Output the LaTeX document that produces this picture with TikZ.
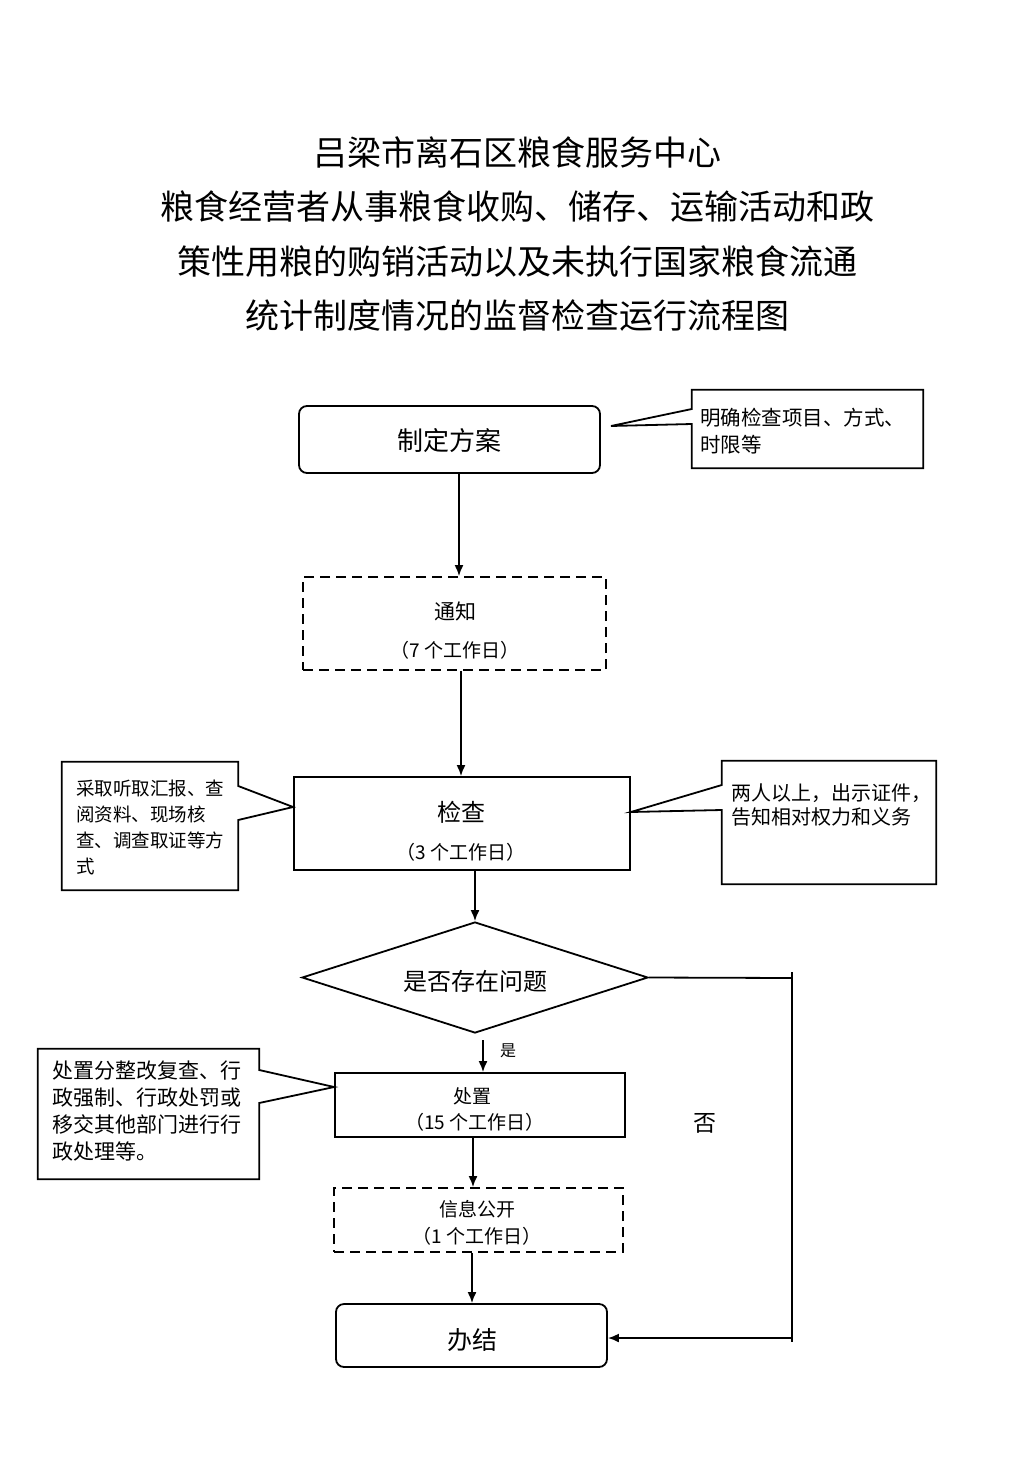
\documentclass[tikz,border=0pt]{standalone}
\usepackage{fontspec}
\setmainfont{Noto Sans CJK SC}
\usetikzlibrary{arrows.meta,shapes.geometric}
\newcommand{\myfs}[2]{\fontsize{#1}{#2}\selectfont}
\tikzset{
 ln/.style={line width=1.8pt},
 arr/.style={ln,-{Latex[length=11pt,width=9pt]}},
 solidbox/.style={draw,ln,rectangle,inner sep=0pt},
 roundbox/.style={solidbox,rounded corners=8pt},
 dashbox/.style={solidbox,dash pattern=on 10pt off 6pt},
 txt/.style={inner sep=0pt,align=center},
 note/.style={inner sep=0pt,align=left,anchor=west},
 calloutbox/.style={inner sep=0pt,rectangle},
 titletxt/.style={inner sep=0pt,font=\myfs{34}{40}},
}
\begin{document}
\begin{tikzpicture}[x=1pt,y=-1pt]
\useasboundingbox (0,0) rectangle (1033,1461);
% title
\node[titletxt] (t1) at (517,152) {吕梁市离石区粮食服务中心};
\node[titletxt] (t2) at (517,207) {粮食经营者从事粮食收购、储存、运输活动和政};
\node[titletxt] (t3) at (517,262) {策性用粮的购销活动以及未执行国家粮食流通};
\node[titletxt] (t4) at (517,316) {统计制度情况的监督检查运行流程图};
% boxes
\node[roundbox,minimum width=301pt,minimum height=67pt] (b1) at (449.5,439.5) {};
\node[txt,font=\myfs{26}{30}] (b1t) at (449.5,441) {制定方案};
\node[dashbox,minimum width=303pt,minimum height=93pt] (b2) at (454.5,623.5) {};
\node[txt,font=\myfs{21}{25}] (b2t) at (455,611) {通知};
\node[txt,font=\myfs{19}{23}] (b2s) at (455,650) {（7 个工作日）};
\node[solidbox,minimum width=336pt,minimum height=93pt] (b3) at (462,823.5) {};
\node[txt,font=\myfs{24}{28}] (b3t) at (461,812) {检查};
\node[txt,font=\myfs{19}{23}] (b3s) at (461,852) {（3 个工作日）};
\node[draw,ln,diamond,minimum width=346pt,minimum height=111pt,inner sep=0pt] (d) at (475,977.5) {};
\node[txt,font=\myfs{24}{28}] (dt) at (475,981) {是否存在问题};
\node[solidbox,minimum width=290pt,minimum height=64pt] (b4) at (480,1105) {};
\node[txt,font=\myfs{19}{23}] (b4t) at (472,1096) {处置};
\node[txt,font=\myfs{19}{23}] (b4s) at (475,1122) {（15 个工作日）};
\node[dashbox,minimum width=289pt,minimum height=64pt] (b5) at (478.5,1220) {};
\node[txt,font=\myfs{19}{23}] (b5t) at (477,1209) {信息公开};
\node[txt,font=\myfs{19}{23}] (b5s) at (477,1236) {（1 个工作日）};
\node[roundbox,minimum width=271pt,minimum height=63pt] (e) at (471.5,1335.5) {};
\node[txt,font=\myfs{25}{29}] (et) at (472,1340) {办结};
% connectors
\draw[arr] (b1.south -| 459,0) -- (b2.north -| 459,0);
\draw[arr] (b2.south -| 461,0) -- (b3.north -| 461,0);
\draw[arr] (b3.south -| d.north) -- (d.north);
\coordinate (y0) at (483,1040);
\draw[arr] (y0) -- (y0 |- b4.north);
\node[txt,font=\myfs{16}{20}] (yes) at (508,1051) {是};
\draw[arr] (b4.south -| 473,0) -- (b5.north -| 473,0);
\draw[arr] (b5.south -| 472,0) -- (e.north -| 472,0);
\coordinate (r0) at (792,972);
\coordinate (r1) at (792,978);
\coordinate (r2) at (792,1338);
\coordinate (r3) at (792,1342);
\draw[ln] (d.east) -- (r1);
\draw[ln] (r0) -- (r3);
\draw[arr] (r2) -- (r2 -| e.east);
\node[txt,font=\myfs{23}{27}] (no) at (705,1123) {否};
% callouts
\node[calloutbox,minimum width=231pt,minimum height=78pt] (c1) at (807.5,429) {};
\draw[ln,fill=white] (c1.north west) -- (c1.north east) -- (c1.south east) -- (c1.south west)
  -- (c1.west |- 0,424) -- (611,426) -- (c1.west |- 0,409) -- cycle;
\node[note,font=\myfs{20.5}{27}] (c1t) at (700,431.5) {明确检查项目、方式、\\时限等};

\node[calloutbox,minimum width=176pt,minimum height=128pt] (c2) at (150,826) {};
\draw[ln,fill=white] (c2.north west) -- (c2.north east) -- (c2.east |- 0,786)
  -- (b3.west |- 0,807) -- (c2.east |- 0,820) -- (c2.south east) -- (c2.south west) -- cycle;
\node[note,font=\myfs{18.5}{26.3}] (c2t) at (76,827.5) {采取听取汇报、查\\阅资料、现场核\\查、调查取证等方\\式};

\node[calloutbox,minimum width=214pt,minimum height=123pt] (c3) at (829,822.5) {};
\draw[ln,fill=white] (c3.north west) -- (c3.north east) -- (c3.south east) -- (c3.south west)
  -- (c3.west |- 0,810) -- (b3.east |- 0,812) -- (c3.west |- 0,785) -- cycle;
\node[note,font=\myfs{20}{24.5}] (c3t) at (731,805) {两人以上，出示证件，\\告知相对权力和义务};

\node[calloutbox,minimum width=221pt,minimum height=130pt] (c4) at (148.5,1114) {};
\draw[ln,fill=white] (c4.north west) -- (c4.north east) -- (c4.east |- 0,1070)
  -- (b4.west |- 0,1087) -- (c4.east |- 0,1103) -- (c4.south east) -- (c4.south west) -- cycle;
\node[note,font=\myfs{21}{26.7}] (c4t) at (52,1111) {处置分整改复查、行\\政强制、行政处罚或\\移交其他部门进行行\\政处理等。};
\end{tikzpicture}
\end{document}
